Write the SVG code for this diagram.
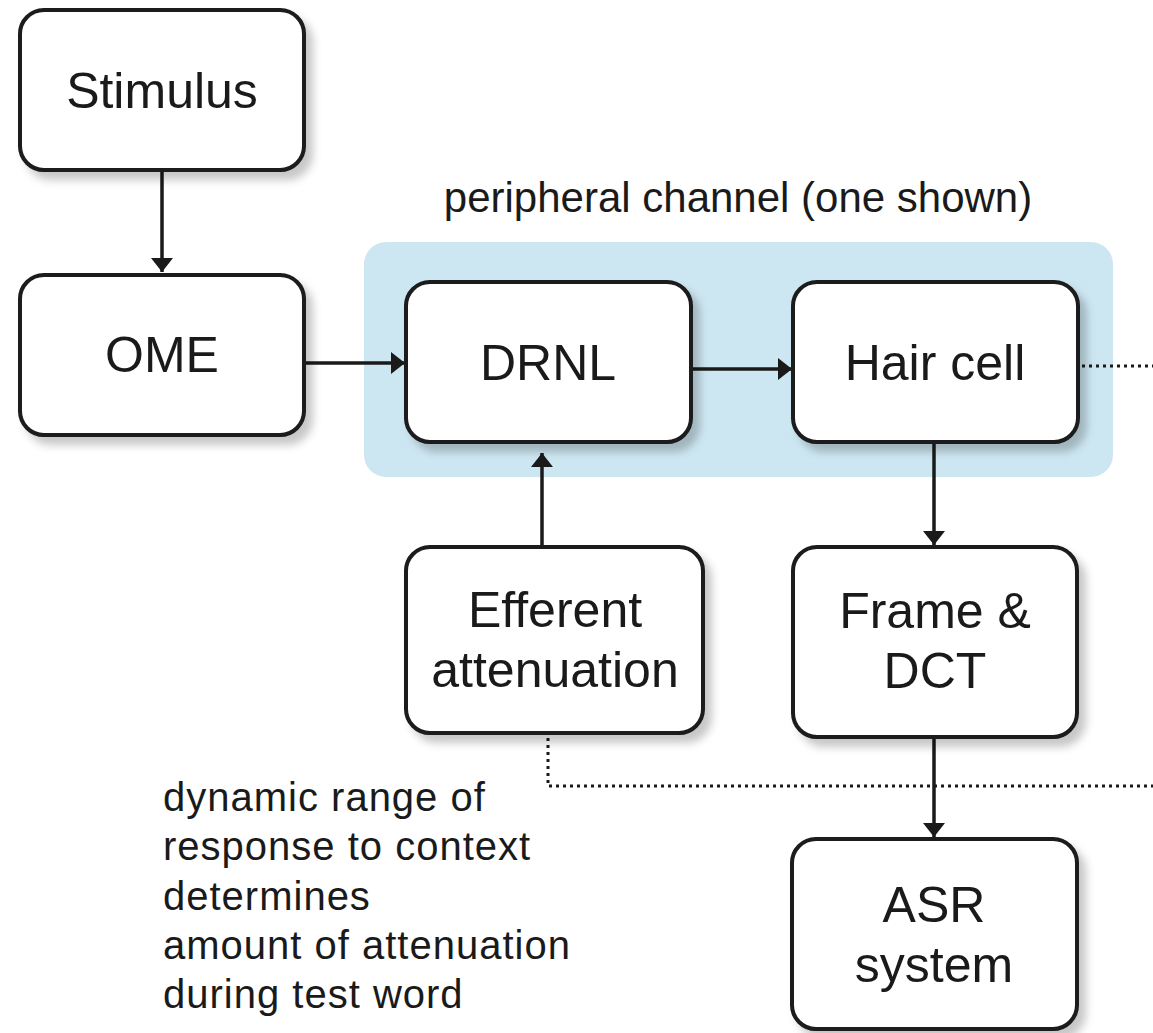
<svg xmlns="http://www.w3.org/2000/svg" width="1153" height="1033" viewBox="0 0 1153 1033">
<style>
.box{fill:#fff;stroke:#1a1a1a;stroke-width:4}
.lbl{font-family:"Liberation Sans",Arial,sans-serif;font-size:50px;fill:#1a1a1a;text-anchor:middle}
.note{font-family:"Liberation Sans",Arial,sans-serif;font-size:40px;letter-spacing:1px;fill:#1a1a1a}
.title{font-family:"Liberation Sans",Arial,sans-serif;font-size:42px;fill:#1a1a1a;text-anchor:middle}
.ln{stroke:#1a1a1a;stroke-width:3.5;fill:none}
.dot{stroke:#1a1a1a;stroke-width:3;fill:none;stroke-dasharray:3 4}
</style>
<defs>
<filter id="sh" x="-10%" y="-10%" width="130%" height="130%">
<feDropShadow dx="7" dy="8" stdDeviation="4" flood-color="#000" flood-opacity="0.22"/>
</filter>
<marker id="ah" viewBox="0 0 14 22" refX="14" refY="11" markerWidth="14" markerHeight="22" orient="auto" markerUnits="userSpaceOnUse">
<path d="M0,0 L14,11 L0,22 Z" fill="#1a1a1a"/>
</marker>
</defs>
<rect x="364" y="242" width="749" height="235" rx="22" fill="#cde7f2"/>
<text class="title" x="738" y="212">peripheral channel (one shown)</text>
<g id="connectors">
<line class="ln" x1="162" y1="170" x2="162" y2="272" marker-end="url(#ah)"/>
<line class="ln" x1="305" y1="363" x2="405" y2="363" marker-end="url(#ah)"/>
<line class="ln" x1="691" y1="369" x2="792" y2="369" marker-end="url(#ah)"/>
<line class="ln" x1="542" y1="547" x2="542" y2="453" marker-end="url(#ah)"/>
<line class="ln" x1="934" y1="442" x2="934" y2="545" marker-end="url(#ah)"/>
<line class="ln" x1="934" y1="737" x2="934" y2="837" marker-end="url(#ah)"/>
<line class="dot" x1="1082" y1="366" x2="1153" y2="366"/>
<polyline class="dot" points="548,738 548,786 1153,786"/>
</g>
<g id="stimulus"><rect class="box" x="20" y="10" width="284" height="160" rx="24" filter="url(#sh)"/><text class="lbl" x="162" y="108">Stimulus</text></g>
<g id="ome"><rect class="box" x="20" y="275" width="284" height="160" rx="24" filter="url(#sh)"/><text class="lbl" x="162" y="372">OME</text></g>
<g id="drnl"><rect class="box" x="406" y="282" width="285" height="160" rx="24" filter="url(#sh)"/><text class="lbl" x="548" y="380">DRNL</text></g>
<g id="haircell"><rect class="box" x="793" y="282" width="285" height="160" rx="24" filter="url(#sh)"/><text class="lbl" x="935" y="380">Hair cell</text></g>
<g id="efferent"><rect class="box" x="406" y="547" width="297" height="186" rx="24" filter="url(#sh)"/><text class="lbl" x="555" y="627">Efferent</text><text class="lbl" x="555" y="687">attenuation</text></g>
<g id="framedct"><rect class="box" x="793" y="547" width="284" height="190" rx="24" filter="url(#sh)"/><text class="lbl" x="935" y="628">Frame &amp;</text><text class="lbl" x="935" y="688">DCT</text></g>
<g id="asr"><rect class="box" x="792" y="839" width="285" height="190" rx="24" filter="url(#sh)"/><text class="lbl" x="934" y="922">ASR</text><text class="lbl" x="934" y="982">system</text></g>
<g id="note">
<text class="note" x="163" y="811">dynamic range of</text>
<text class="note" x="163" y="860">response to context</text>
<text class="note" x="163" y="910">determines</text>
<text class="note" x="163" y="959">amount of attenuation</text>
<text class="note" x="163" y="1008">during test word</text>
</g>
</svg>
